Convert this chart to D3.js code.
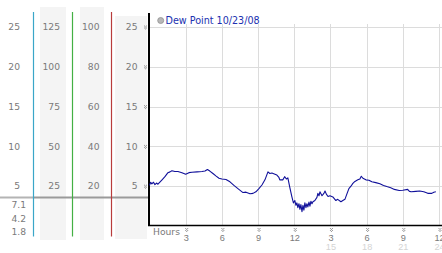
<!DOCTYPE html>
<html><head><meta charset="utf-8">
<script src="https://cdn.jsdelivr.net/npm/d3@7"></script>
<style>
html,body{margin:0;padding:0;background:#fff;}
svg{display:block;font-family:"DejaVu Sans",Verdana,sans-serif;}
</style></head>
<body><svg id="c" width="442" height="253"></svg>
<script>
// ---- data ----
const hours = [0,0.1,0.2,0.33,0.45,0.58,0.7,1.04,1.28,1.53,1.7,1.86,2.1,2.36,2.69,3.0,3.27,3.52,3.94,4.35,4.6,4.8,5.0,5.26,5.5,5.76,6.0,6.34,6.67,7.0,7.33,7.75,8.0,8.33,8.58,8.82,9.07,9.32,9.57,9.82,9.98,10.15,10.4,10.56,10.73,10.8,11.06,11.2,11.35,11.47,11.64,11.8,11.93,12.05,12.14,12.22,12.3,12.39,12.47,12.55,12.64,12.72,12.8,12.88,12.97,13.05,13.13,13.22,13.3,13.38,13.47,13.55,13.71,13.88,13.96,14.05,14.13,14.3,14.46,14.55,14.66,14.8,14.96,15.2,15.45,15.6,15.87,16.03,16.2,16.36,16.53,16.7,16.86,17.03,17.27,17.44,17.56,17.69,17.94,18.19,18.43,18.76,19.1,19.4,19.67,20.0,20.3,20.7,21.0,21.4,21.55,21.7,22.08,22.4,22.74,23.07,23.4,23.57,23.74];
const dewPoint = [5.1,5.5,5.3,5.5,5.2,5.4,5.25,5.8,6.2,6.7,6.8,6.95,6.85,6.85,6.7,6.5,6.7,6.75,6.8,6.85,6.9,7.1,6.9,6.6,6.3,6.0,5.9,5.85,5.55,5.1,4.7,4.2,4.25,4.05,4.1,4.3,4.7,5.15,5.8,6.8,6.6,6.65,6.5,6.4,6.1,5.8,5.8,6.2,5.9,6.05,4.8,3.7,2.9,3.2,2.6,2.9,2.3,2.8,2.1,2.7,1.8,2.6,2.0,2.9,2.3,2.8,2.4,3.0,2.5,3.1,2.8,3.05,3.2,3.6,4.1,3.8,4.3,3.8,4.1,4.4,4.0,3.7,3.8,3.65,3.2,3.35,3.05,3.2,3.35,4.0,4.7,5.0,5.35,5.6,5.8,5.9,6.25,6.0,5.8,5.75,5.55,5.45,5.3,5.1,4.95,4.8,4.6,4.45,4.5,4.6,4.35,4.3,4.35,4.4,4.3,4.1,4.1,4.25,4.3];
const yTicks = [5,10,15,20,25];
const col1Labels = ["5","10","15","20","25"];
const col2Labels = ["25","50","75","100","125"];
const col3Labels = ["20","40","60","80","100"];
const col4Labels = ["5","10","15","20","25"];
const statLabels = ["7.1","4.2","1.8"];
const xTicks = [3,6,9,12,15,18,21,24];
const xRow1 = ["3","6","9","12","3","6","9","12"];
const xRow2 = ["","","","","15","18","21","24"];
const legendLabel = "Dew Point 10/23/08";

const svg = d3.select("#c");
const x = d3.scaleLinear().domain([0,24]).range([149.5,439]);
const y = d3.scaleLinear().domain([0,25]).range([226,27]);

// left panel bands
const bands = [[40,7,26,233],[80,7,24,233],[115,16,32,223]];
svg.selectAll("rect.band").data(bands).enter().append("rect")
  .attr("x",d=>d[0]).attr("y",d=>d[1]).attr("width",d=>d[2]).attr("height",d=>d[3])
  .attr("fill","#f4f4f4");

// separator
svg.append("line").attr("x1",0).attr("x2",33).attr("y1",197.5).attr("y2",197.5).attr("stroke","#b4b4b4").attr("stroke-width",2);
svg.append("line").attr("x1",33).attr("x2",149).attr("y1",197.5).attr("y2",197.5).attr("stroke","#9a9a9a").attr("stroke-width",2);

// colored vertical lines
const vlines = [[33.5,"#3aa6c8"],[72.5,"#44b044"],[111.5,"#b83c3c"]];
svg.selectAll("line.vl").data(vlines).enter().append("line")
  .attr("x1",d=>d[0]).attr("x2",d=>d[0]).attr("y1",12).attr("y2",236.5)
  .attr("stroke",d=>d[1]).attr("stroke-width",1.2);

// column labels
function col(labels, xr){
  svg.append("g").selectAll("text").data(labels).enter().append("text")
    .attr("x",xr).attr("y",(d,i)=>y(yTicks[i])).attr("dy","0.35em")
    .attr("text-anchor","end").attr("font-size",9.2).attr("fill","#7a7a7a").text(d=>d);
}
col(col1Labels,20);
col(col2Labels,60);
col(col3Labels,99.5);
col(col4Labels,137.5);
const statY=[205,218.5,232];
svg.append("g").selectAll("text").data(statLabels).enter().append("text")
  .attr("x",26).attr("y",(d,i)=>statY[i]).attr("dy","0.35em")
  .attr("text-anchor","end").attr("font-size",9.2).attr("fill","#7a7a7a").text(d=>d);

// gridlines
svg.append("g").selectAll("line").data(yTicks).enter().append("line")
  .attr("x1",149).attr("x2",442).attr("y1",d=>Math.round(y(d))+0.5).attr("y2",d=>Math.round(y(d))+0.5)
  .attr("stroke","#dcdcdc").attr("stroke-width",1);
svg.append("g").selectAll("line").data(xTicks).enter().append("line")
  .attr("x1",d=>Math.round(x(d))+0.5).attr("x2",d=>Math.round(x(d))+0.5).attr("y1",24).attr("y2",225)
  .attr("stroke","#dcdcdc").attr("stroke-width",1);

// small dotted tick marker pattern
const dots = [[0,0],[2,0],[1,1],[0,2],[2,2],[1,3]];
function marker(sel, dx, dy){
  sel.each(function(){
    d3.select(this).append("g").attr("transform",`translate(${dx},${dy})`)
      .selectAll("rect").data(dots).enter().append("rect")
      .attr("x",d=>d[0]).attr("y",d=>d[1]).attr("width",1).attr("height",1).attr("fill","#9a9a9a");
  });
}

// y axis
const ya = svg.append("g").attr("transform","translate(149,0)")
  .call(d3.axisLeft(y).tickValues(yTicks).tickSize(0).tickFormat(()=> ""));
ya.select(".domain").remove();
marker(ya.selectAll(".tick"), -5, -2);
svg.append("line").attr("x1",149).attr("x2",149).attr("y1",13).attr("y2",226).attr("stroke","#000").attr("stroke-width",2);

// x axis
const xa = svg.append("g").attr("transform","translate(0,225)")
  .call(d3.axisBottom(x).tickValues(xTicks).tickSize(0).tickFormat(()=> ""));
xa.select(".domain").remove();
marker(xa.selectAll(".tick"), -1, 3);
xa.selectAll(".tick").append("text").attr("y",13).attr("dy","0.35em").attr("text-anchor","middle")
  .attr("font-size",9.2).attr("fill","#7a7a7a").text((d,i)=>xRow1[i]);
xa.selectAll(".tick").append("text").attr("y",21.7).attr("dy","0.35em").attr("text-anchor","middle")
  .attr("font-size",9.2).attr("fill","#d4d4d4").text((d,i)=>xRow2[i]);
svg.append("line").attr("x1",148).attr("x2",442).attr("y1",225.5).attr("y2",225.5).attr("stroke","#000").attr("stroke-width",1.3);
svg.append("text").attr("x",153).attr("y",232).attr("dy","0.35em").attr("font-size",9.2).attr("fill","#7a7a7a").text("Hours");

// line
const line = d3.line().x((d,i)=>x(hours[i])).y(d=>y(d));
svg.append("path").datum(dewPoint).attr("d",line).attr("fill","none")
  .attr("stroke","#10109a").attr("stroke-width",1.1).attr("stroke-linejoin","round");

// legend
svg.append("circle").attr("cx",160.7).attr("cy",20.5).attr("r",3).attr("fill","#b8b8b8").attr("stroke","#909090").attr("stroke-width",0.8);
svg.append("text").attr("x",165.5).attr("y",20.5).attr("dy","0.35em").attr("font-size",9.6).attr("fill","#2030b0").text(legendLabel);
</script></body></html>
